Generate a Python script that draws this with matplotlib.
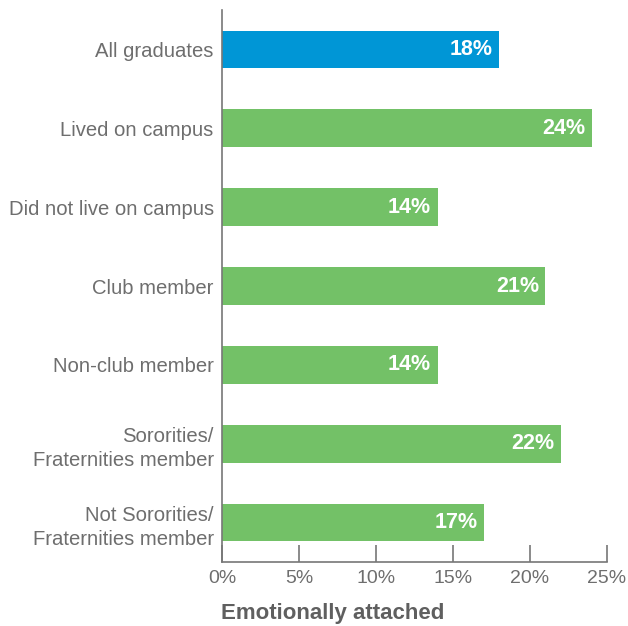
import numpy as np
import matplotlib
matplotlib.use('Agg')
import matplotlib.pyplot as plt

plt.rcParams['font.family'] = ['Liberation Sans', 'DejaVu Sans']

categories = ['All graduates', 'Lived on campus', 'Did not live on campus',
              'Club member', 'Non-club member',
              'Sororities/\nFraternities member',
              'Not Sororities/\nFraternities member']
values = [18, 24, 14, 21, 14, 22, 17]
bar_colors = ['#0096D6'] + ['#73C167'] * 6
x_ticks = [0, 5, 10, 15, 20, 25]

W, H = 628, 626
fig = plt.figure(figsize=(W / 100, H / 100), dpi=100)
ax = fig.add_axes([222 / W, 1 - 562 / H, (607 - 222) / W, (562 - 10) / H])

grey = '#6e6e6e'
y = np.arange(len(categories))
ax.barh(y, values, height=0.48, color=bar_colors)

for yi, v in zip(y, values):
    ax.text(v - 0.42, yi, f'{v}%', ha='right', va='center', color='white',
            fontsize=15.5, fontweight='bold')

ax.set_ylim(len(categories) - 0.5, -0.5)
ax.set_xlim(0, 25)
ax.set_yticks(y)
ax.set_yticklabels(categories, fontsize=14.6, color=grey, linespacing=1.35)
ax.set_xticks(x_ticks)
ax.set_xticklabels([f'{t}%' for t in x_ticks], fontsize=14, color=grey)

ax.tick_params(axis='y', length=0, pad=6)
ax.tick_params(axis='x', direction='in', length=12, width=1.2, color='#777777', pad=6)

for s in ['top', 'right']:
    ax.spines[s].set_visible(False)
for s in ['left', 'bottom']:
    ax.spines[s].set_color('#777777')
    ax.spines[s].set_linewidth(1.2)

fig.text(221 / W, 1 - 613 / H, 'Emotionally attached', ha='left', va='center',
         fontsize=16, fontweight='bold', color='#5f5f5f')

fig.savefig('out.png', dpi=100)
